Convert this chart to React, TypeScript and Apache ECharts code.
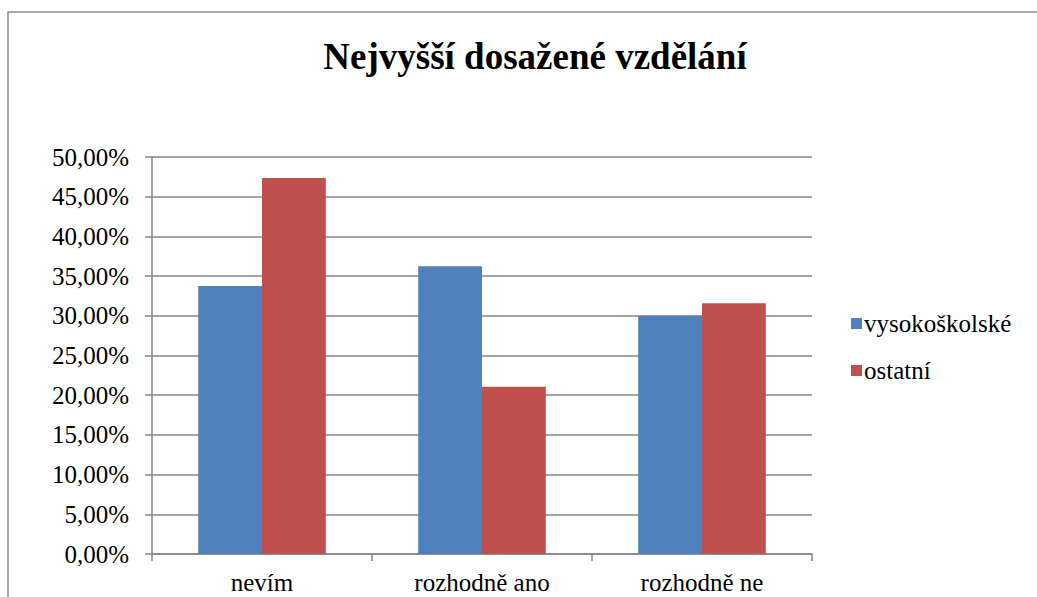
import React, { useEffect, useRef } from "react";
import * as echarts from "echarts";

const categories = ["nevím", "rozhodně ano", "rozhodně ne"];
const seriesNames = ["vysokoškolské", "ostatní"];
const vysokoskolske = [33.75, 36.25, 30.0];
const ostatni = [47.37, 21.05, 31.58];
const titleText = "Nejvyšší dosažené vzdělání";

const FONT = "Liberation Serif";
const CSS = "#chartbox svg text{font-family:'Liberation Serif','Times New Roman',serif !important;}";

export default function App() {
  const ref = useRef<HTMLDivElement>(null);
  useEffect(() => {
    document.body.style.margin = "0";
    const chart = echarts.init(ref.current!, null, { renderer: "svg" });
    chart.setOption({
      animation: false,
      backgroundColor: "#ffffff",
      textStyle: { fontFamily: FONT, color: "#000" },
      title: {
        text: titleText,
        left: 530,
        textAlign: "center",
        top: 33,
        textStyle: { fontFamily: FONT, fontSize: 37, fontWeight: "bold", color: "#000" },
      },
      graphic: [
        {
          type: "rect",
          shape: { x: 8, y: 12, width: 1040, height: 600 },
          style: { fill: "none", stroke: "#8c8c8c", lineWidth: 1.5 },
          silent: true,
        },
      ],
      legend: {
        orient: "vertical",
        left: 846,
        top: 306,
        itemWidth: 11,
        itemHeight: 11,
        itemGap: 22,
        icon: "rect",
        textStyle: { fontFamily: FONT, fontSize: 25, color: "#000", padding: [0, 0, 0, -3] },
        data: seriesNames,
      },
      grid: { left: 152, right: 225, top: 157, bottom: 43, containLabel: false },
      xAxis: {
        type: "category",
        data: categories,
        axisLine: { lineStyle: { color: "#868686", width: 1.5 } },
        axisTick: { show: true, length: 7, interval: 0, lineStyle: { color: "#868686", width: 1.5 } },
        axisLabel: { fontFamily: FONT, fontSize: 25, color: "#000", margin: 16, interval: 0, hideOverlap: false },
      },
      yAxis: {
        type: "value",
        min: 0,
        max: 50,
        interval: 5,
        axisLine: { show: true, lineStyle: { color: "#868686", width: 1.5 } },
        axisTick: { show: true, length: 7, lineStyle: { color: "#868686", width: 1.5 } },
        splitLine: { lineStyle: { color: "#868686", width: 1.5 } },
        axisLabel: {
          fontFamily: FONT,
          fontSize: 25,
          color: "#000",
          margin: 23,
          formatter: (v: number) => v.toFixed(2).replace(".", ",") + "%",
        },
      },
      series: [
        {
          name: seriesNames[0],
          type: "bar",
          data: vysokoskolske,
          barGap: "0%",
          barCategoryGap: "42%",
          itemStyle: { color: "#4f81bd" },
        },
        {
          name: seriesNames[1],
          type: "bar",
          data: ostatni,
          barGap: "0%",
          barCategoryGap: "42%",
          itemStyle: { color: "#c0504d" },
        },
      ],
    });
    return () => chart.dispose();
  }, []);
  return (
    <div id="chartbox">
      <style>{CSS}</style>
      <div ref={ref} style={{ width: 1037, height: 597 }} />
    </div>
  );
}
